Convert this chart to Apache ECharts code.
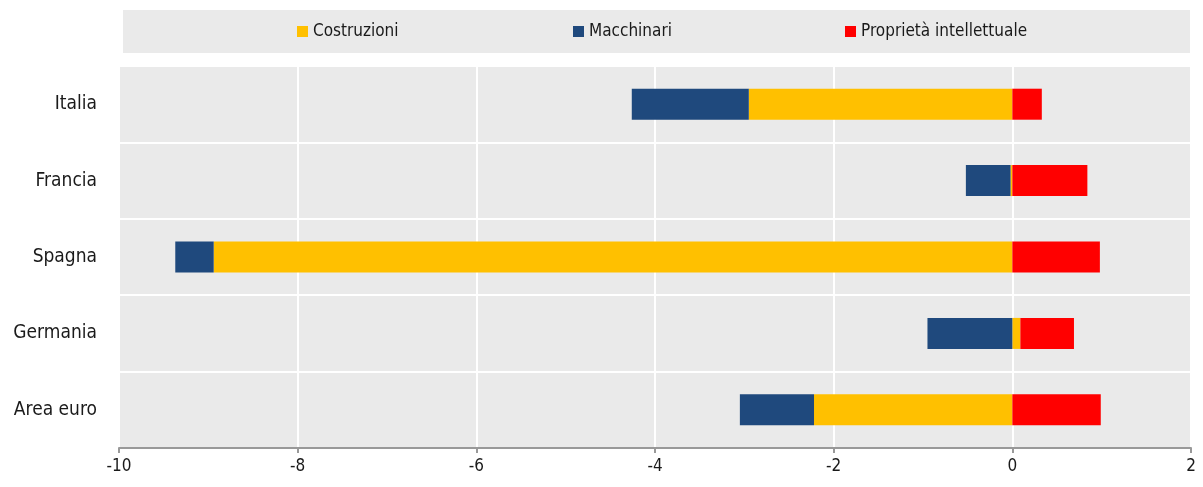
<!DOCTYPE html>
<html>
<head>
<meta charset="utf-8">
<script src="https://cdn.jsdelivr.net/npm/echarts@6/dist/echarts.min.js"></script>
<style>
  html, body { margin: 0; padding: 0; background: #fff; }
  #chart { width: 1203px; height: 487px; }
</style>
</head>
<body>
<div id="chart"></div>
<script>
var paesi = ['Italia', 'Francia', 'Spagna', 'Germania', 'Area euro']
var costruzioni = [-2.95, -0.02, -8.94, 0.09, -2.22]
var macchinari = [-1.31, -0.5, -0.43, -0.95, -0.83]
var proprieta = [0.33, 0.84, 0.98, 0.6, 0.99]

var font = '"DejaVu Sans Condensed", "Liberation Sans Narrow", sans-serif'
var colori = { costruzioni: '#FFC000', macchinari: '#1F497D', proprieta: '#FF0000' }

var chart = echarts.init(document.getElementById('chart'))

function legenda(nome, x) {
  return {
    data: [nome],
    left: x,
    top: 23,
    itemWidth: 11,
    itemHeight: 11,
    itemGap: 0,
    padding: 0,
    icon: 'rect',
    textStyle: { fontFamily: font, fontSize: 17, color: '#1a1a1a' }
  }
}

chart.setOption({
  backgroundColor: '#fff',
  animation: false,
  graphic: [{
    type: 'rect',
    shape: { x: 123, y: 10, width: 1067, height: 43 },
    style: { fill: '#EAEAEA' },
    z: -1
  }],
  legend: [
    legenda('Costruzioni', 297),
    legenda('Macchinari', 573),
    legenda('Proprietà intellettuale', 845)
  ],
  grid: {
    left: 119, right: 12, top: 66, bottom: 39,
    outerBoundsMode: 'none',
    containLabel: false,
    show: true, backgroundColor: '#EAEAEA', borderWidth: 0
  },
  xAxis: {
    type: 'value',
    min: -10, max: 2, interval: 2,
    axisLine: { show: true, lineStyle: { color: '#999', width: 2 } },
    axisTick: { show: true, length: 5, lineStyle: { color: '#999', width: 2 } },
    axisLabel: { fontFamily: font, fontSize: 17, color: '#1a1a1a', margin: 10 },
    splitLine: { show: true, lineStyle: { color: '#fff', width: 2 } }
  },
  yAxis: {
    type: 'category',
    data: paesi,
    inverse: true,
    axisLine: { show: false },
    axisTick: { show: false },
    axisLabel: { fontFamily: font, fontSize: 19, color: '#1a1a1a', margin: 22 },
    splitLine: { show: true, lineStyle: { color: '#fff', width: 2 } }
  },
  series: [
    { name: 'Costruzioni', type: 'bar', stack: 'tot', barWidth: 31, data: costruzioni,
      itemStyle: { color: colori.costruzioni } },
    { name: 'Macchinari', type: 'bar', stack: 'tot', barWidth: 31, data: macchinari,
      itemStyle: { color: colori.macchinari } },
    { name: 'Proprietà intellettuale', type: 'bar', stack: 'tot', barWidth: 31, data: proprieta,
      itemStyle: { color: colori.proprieta } }
  ]
})
</script>
</body>
</html>
